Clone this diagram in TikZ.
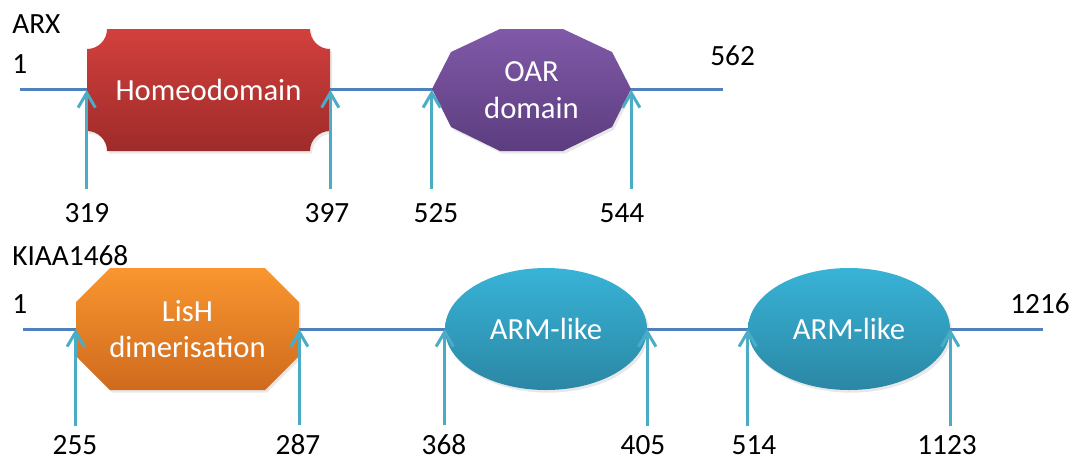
\documentclass[tikz,border=0pt]{standalone}
\usepackage{fontspec}
\setmainfont{Carlito}
\usetikzlibrary{arrows.meta,shapes.geometric,shadows}
\definecolor{lineblue}{HTML}{4F81BD}
\definecolor{arrowc}{HTML}{4BACC6}
\definecolor{redT}{HTML}{D2403D}
\definecolor{redB}{HTML}{9E2B29}
\definecolor{purT}{HTML}{8059A8}
\definecolor{purB}{HTML}{5C3D7F}
\definecolor{oraT}{HTML}{F9962F}
\definecolor{oraB}{HTML}{CF6A1E}
\definecolor{cyaT}{HTML}{38B3D7}
\definecolor{cyaB}{HTML}{2B87A4}
\begin{document}
\begin{tikzpicture}[x=0.75pt,y=-0.75pt,
  every node/.style={font=\fontsize{22}{27}\selectfont},
  bb/.style={line width=2.25pt, draw=lineblue},
  arr/.style={line width=2.25pt, draw=arrowc, -{Straight Barb[length=11pt,width=13pt]}},
  num/.style={anchor=base, inner sep=0pt, outer ysep=10.5pt, text=black},
  numlow/.style={num, outer ysep=6.5pt},
  side/.style={anchor=base west, inner sep=0pt, text=black},
  dom/.style={text=white, align=center, inner sep=0pt, font=\fontsize{23}{27.5}\selectfont},
  shad/.style={drop shadow={shadow xshift=1.5pt,shadow yshift=-2pt,opacity=0.18}}]
\useasboundingbox (0,0) rectangle (1078,462);
% backbones
\coordinate (a0) at (20,89);
\coordinate (a1) at (723,89);
\draw[bb] (a0) -- (a1);
\coordinate (k0) at (23,329);
\coordinate (k1) at (1043,329);
\draw[bb] (k0) -- (k1);
% ARX domains
\path[shad, top color=redT, bottom color=redB]
  (107,29) -- (310,29) arc[start angle=180,end angle=90,radius=20]
  -- (330,131) arc[start angle=270,end angle=180,radius=20]
  -- (107,151) arc[start angle=0,end angle=-90,radius=20]
  -- (87,49) arc[start angle=90,end angle=0,radius=20] -- cycle;
\node[dom, minimum width=182.25pt, minimum height=91.5pt] (homeo) at (208.5,90) {Homeodomain};
\path[shad, top color=purT, bottom color=purB]
  (500,29) -- (563,29) -- (612,52) -- (631,89) -- (612,127) -- (563,151)
  -- (500,151) -- (451,127) -- (432,89) -- (451,52) -- cycle;
\node[dom, minimum width=149.25pt, minimum height=91.5pt] (oar) at (531.5,90) {OAR\\domain};
% KIAA1468 domains
\path[shad, top color=oraT, bottom color=oraB]
  (110,268) -- (265,268) -- (299,302) -- (299,356) -- (265,390)
  -- (110,390) -- (76,356) -- (76,302) -- cycle;
\node[dom, minimum width=167.25pt, minimum height=91.5pt] (lish) at (187.5,329) {LisH\\dimerisation};
\node[dom, ellipse, shad, top color=cyaT, bottom color=cyaB, minimum width=151.5pt, minimum height=91.5pt] (arm1) at (546,329) {ARM-like};
\node[dom, ellipse, shad, top color=cyaT, bottom color=cyaB, minimum width=151.5pt, minimum height=91.5pt] (arm2) at (849,329) {ARM-like};
% side labels
\node[side] (arx) at (12,33) {ARX};
\node[side] (s1) at (12,73) {1};
\node[side] (e562) at (710,65) {562};
\node[side] (kiaa) at (12,265) {KIAA1468};
\node[side] (t1) at (12,313) {1};
\node[side] (e1216) at (1010,313) {1216};
% position labels
\node[num] (n319) at (87,222) {319};
\node[num] (n397) at (327,222) {397};
\node[num] (n525) at (436,222) {525};
\node[num] (n544) at (622,222) {544};
\node[numlow] (n255) at (75,454) {255};
\node[numlow] (n287) at (298,454) {287};
\node[numlow] (n368) at (444,454) {368};
\node[numlow] (n405) at (643,454) {405};
\node[numlow] (n514) at (754,454) {514};
\node[numlow] (n1123) at (947,454) {1123};
% arrows
\draw[arr] (n319.north -| homeo.west) -- (homeo.west);
\draw[arr] (n397.north -| homeo.east) -- (homeo.east);
\draw[arr] (n525.north -| oar.west) -- (oar.west);
\draw[arr] (n544.north -| oar.east) -- (oar.east);
\draw[arr] (n255.north -| lish.west) -- (lish.west);
\draw[arr] (n287.north -| lish.east) -- (lish.east);
\draw[arr] (n368.north -| arm1.west) -- (arm1.west);
\draw[arr] (n405.north -| arm1.east) -- (arm1.east);
\draw[arr] (n514.north -| arm2.west) -- (arm2.west);
\draw[arr] (n1123.north -| arm2.east) -- (arm2.east);
\end{tikzpicture}
\end{document}
